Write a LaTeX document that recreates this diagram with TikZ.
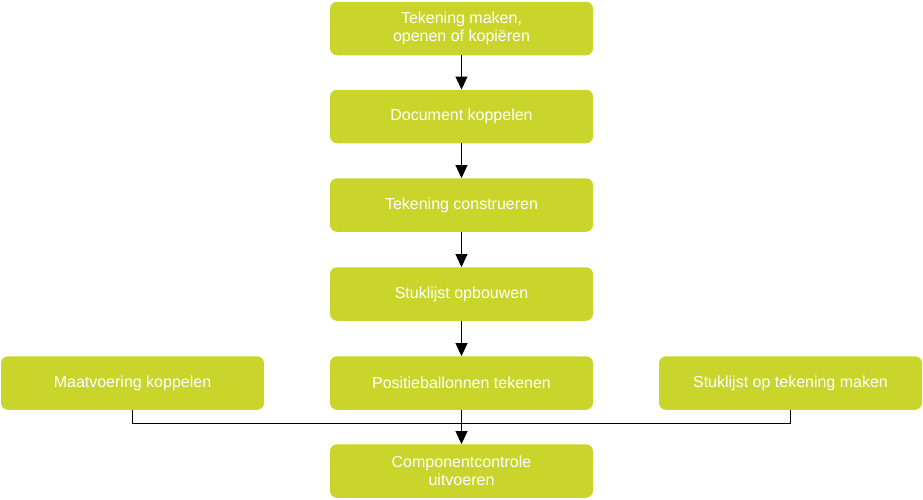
\documentclass[tikz,border=0pt]{standalone}
\usepackage{fontspec}
\setmainfont{Liberation Sans}
\usetikzlibrary{arrows.meta,positioning}
\definecolor{cStep}{HTML}{C9D52B}

\begin{document}
\begin{tikzpicture}[
    x=1pt, y=-1pt,
    stepbox/.style={rectangle, rounded corners=7pt, fill=cStep, draw=none, minimum width=263pt, minimum height=53.5pt, text=white, align=center, inner sep=2pt, font=\fontsize{16}{18.5}\selectfont},
    arr/.style={-{Triangle[length=13pt, width=12pt]}, line width=1pt, black},
    link/.style={line width=1pt, black},
]
\useasboundingbox (0,0) rectangle (923,499);

\def\colx{461.5}
\def\side{329}

% main column
\node[stepbox] (maken) at (\colx, 28.5) {Tekening maken,\\openen of kopiëren};
\node[stepbox] (koppel) at (\colx, 116.5) {Document koppelen};
\node[stepbox] (construct) at (\colx, 205) {Tekening construeren};
\node[stepbox] (stuklijst) at (\colx, 294) {Stuklijst opbouwen};
\node[stepbox] (ballon) at (\colx, 383) {Positieballonnen tekenen};
\node[stepbox] (controle) at (\colx, 471) {Componentcontrole\\uitvoeren};

% side steps
\node[stepbox] (maat) at (\colx-\side, 383) {Maatvoering koppelen};
\node[stepbox] (opteken) at (\colx+\side, 383) {Stuklijst op tekening maken};

\draw[arr] (maken) -- (koppel);
\draw[arr] (koppel) -- (construct);
\draw[arr] (construct) -- (stuklijst);
\draw[arr] (stuklijst) -- (ballon);
\draw[arr] (ballon) -- (controle);

% merge line
\coordinate (join) at (\colx, 423);
\draw[link] (maat.south) |- (join) -| (opteken.south);

\end{tikzpicture}
\end{document}
